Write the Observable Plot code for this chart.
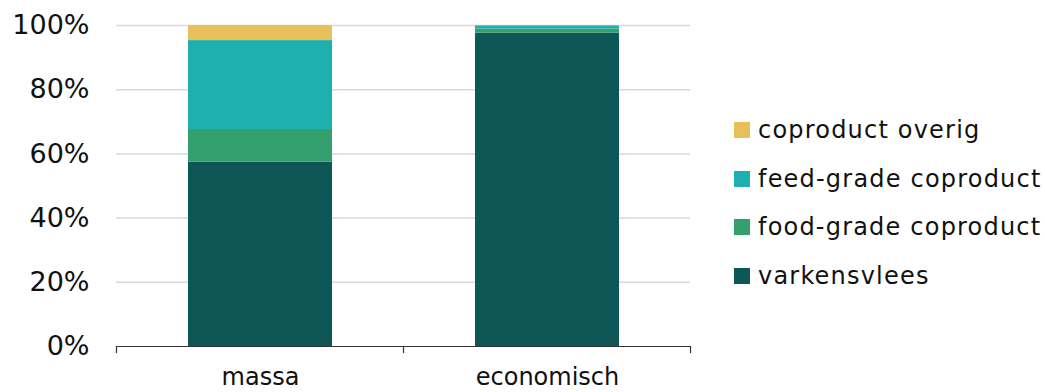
<!DOCTYPE html>
<html>
<head>
<meta charset="utf-8">
<script src="https://cdn.jsdelivr.net/npm/d3@7"></script>
<script src="https://cdn.jsdelivr.net/npm/@observablehq/plot@0.6"></script>
<style>
  html, body { margin: 0; padding: 0; background: #fff; }
  #wrap { position: relative; width: 1045px; height: 392px; font-family: "DejaVu Sans", sans-serif; }
  #legend { position: absolute; left: 734px; top: 106px; }
  .li { display: flex; align-items: center; height: 48.5px; font-size: 24px; letter-spacing: 1.2px; color: #111; white-space: nowrap; }
  .sw { width: 16px; height: 16px; margin-right: 8px; flex: none; }
</style>
</head>
<body>
<div id="wrap"></div>
<script>
const categories = ["massa", "economisch"];
const series = ["varkensvlees", "food-grade coproduct", "feed-grade coproduct", "coproduct overig"];
const colors = ["#0F5757", "#34A06D", "#1DB0AF", "#E7C05A"];
const varkensvlees = [0.574, 0.976];
const foodGrade = [0.102, 0.013];
const feedGrade = [0.277, 0.010];
const overig = [0.047, 0.001];
const yTicks = [0, 0.2, 0.4, 0.6, 0.8, 1.0];

const seriesValues = [varkensvlees, foodGrade, feedGrade, overig];
const data = [];
series.forEach((s, si) => categories.forEach((c, ci) => data.push({cat: c, serie: s, value: seriesValues[si][ci]})));

const font = "DejaVu Sans, sans-serif";
const plot = Plot.plot({
  width: 1045,
  height: 392,
  marginLeft: 116,
  marginRight: 355,
  marginTop: 25,
  marginBottom: 46,
  style: {fontFamily: font, fontSize: "24px", color: "#111", background: "#fff"},
  x: {domain: categories, paddingInner: 0.5, paddingOuter: 0.25, label: null},
  y: {domain: [0, 1], label: null},
  color: {domain: series, range: colors},
  marks: [
    Plot.gridY(yTicks.slice(1), {stroke: "#d9d9d9", strokeOpacity: 1, strokeWidth: 1.5}),
    Plot.barY(data, Plot.stackY({x: "cat", y: "value", fill: "serie", order: series})),
    Plot.ruleY([0], {stroke: "#333", strokeWidth: 1.2}),
    Plot.axisY(yTicks, {tickSize: 0, tickPadding: 27, tickFormat: d3.format(".0%"), fontSize: 27}),
    Plot.axisX({tickSize: 0, tickPadding: 21, fontSize: 24})
  ]
});

// category boundary ticks below the baseline, from the library's band scale
const xs = plot.scale("x");
const ys = plot.scale("y");
const y0 = ys.apply(0);
const bounds = [];
categories.forEach((c, i) => {
  const left = xs.apply(c) + xs.bandwidth / 2 - xs.step / 2;
  if (i === 0) bounds.push(left);
  bounds.push(left + xs.step);
});
const g = d3.select(plot).append("g");
bounds.forEach(b => {
  g.append("line").attr("x1", b).attr("x2", b).attr("y1", y0).attr("y2", y0 + 7)
    .attr("stroke", "#333").attr("stroke-width", 1.2);
});

const wrap = document.getElementById("wrap");
wrap.appendChild(plot);

const legend = document.createElement("div");
legend.id = "legend";
series.slice().reverse().forEach((s) => {
  const i = series.indexOf(s);
  const row = document.createElement("div");
  row.className = "li";
  const sw = document.createElement("span");
  sw.className = "sw";
  sw.style.background = colors[i];
  const t = document.createElement("span");
  t.textContent = s;
  row.appendChild(sw);
  row.appendChild(t);
  legend.appendChild(row);
});
wrap.appendChild(legend);
</script>
</body>
</html>
